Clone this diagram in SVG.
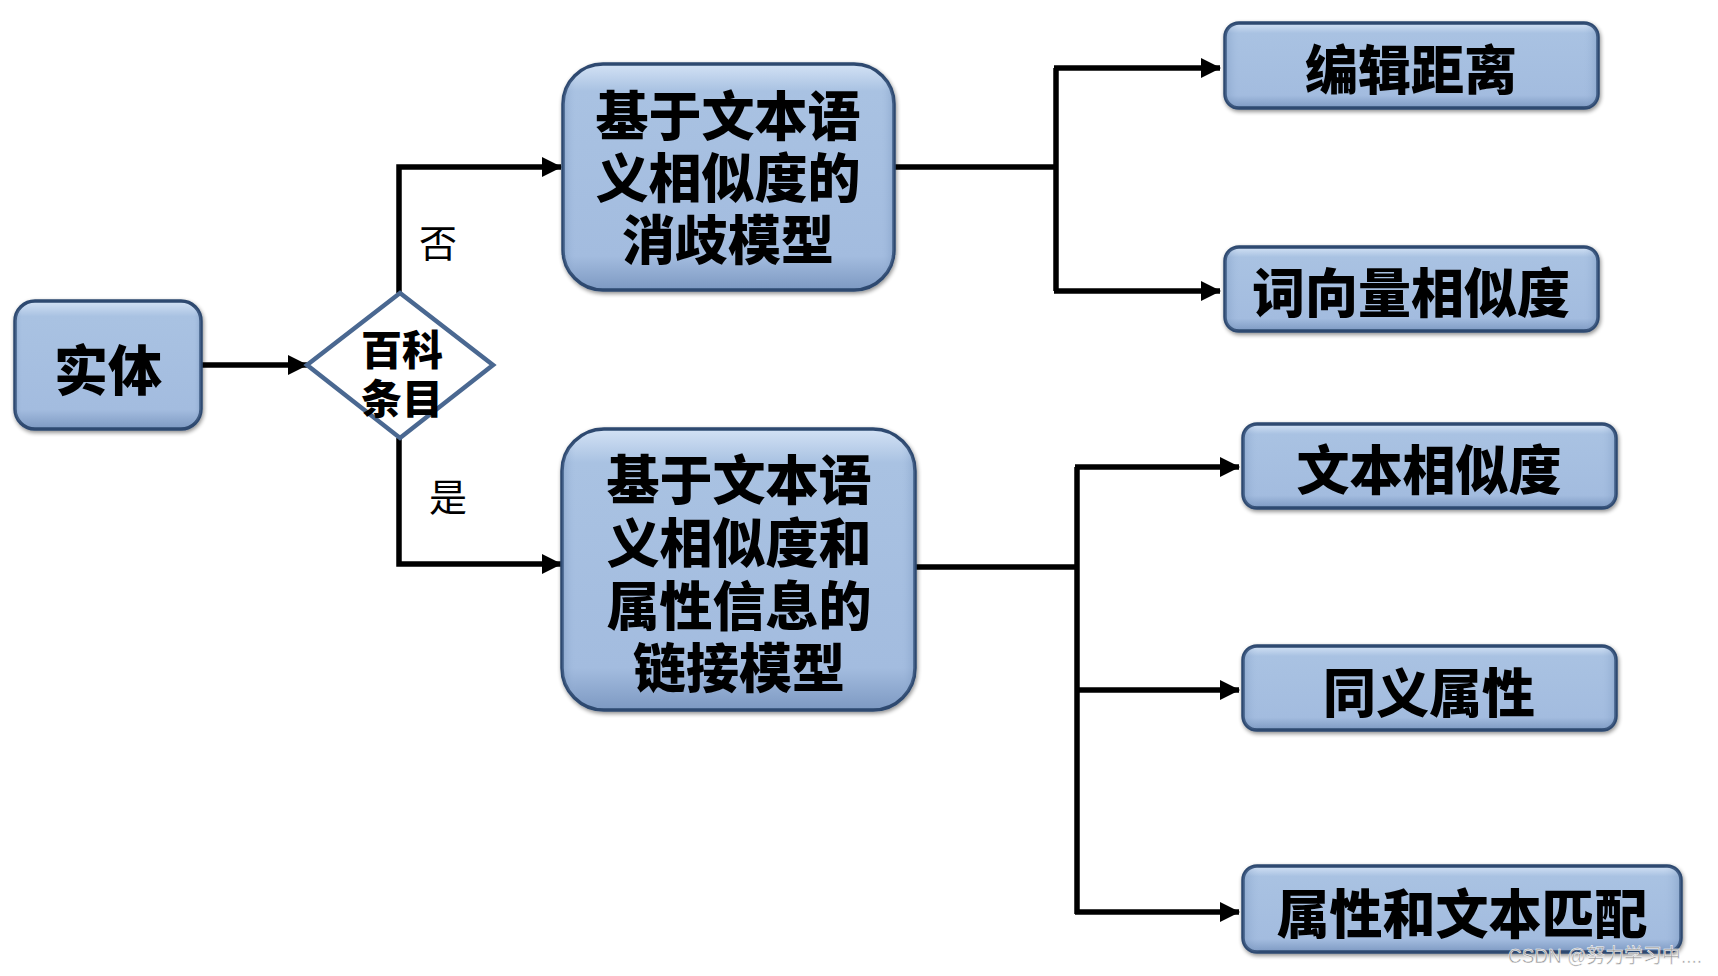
<svg xmlns="http://www.w3.org/2000/svg" width="1718" height="976" viewBox="0 0 1718 976">
  <defs>
    <linearGradient id="boxFill" x1="0" y1="0" x2="0" y2="1">
      <stop offset="0" stop-color="#d3e2f5"/>
      <stop offset="0.12" stop-color="#a9c2e2"/>
      <stop offset="0.85" stop-color="#a3bcdf"/>
      <stop offset="1" stop-color="#7d99c2"/>
    </linearGradient>
    <linearGradient id="sideShade" x1="0" y1="0" x2="1" y2="0">
      <stop offset="0" stop-color="#5f7fab" stop-opacity="0.35"/>
      <stop offset="0.04" stop-color="#a3bcdf" stop-opacity="0"/>
      <stop offset="0.96" stop-color="#a3bcdf" stop-opacity="0"/>
      <stop offset="1" stop-color="#5f7fab" stop-opacity="0.35"/>
    </linearGradient>
    <filter id="shadow" x="-10%" y="-10%" width="120%" height="130%">
      <feGaussianBlur in="SourceAlpha" stdDeviation="2"/>
      <feOffset dx="1" dy="2" result="b"/>
      <feComponentTransfer><feFuncA type="linear" slope="0.45"/></feComponentTransfer>
      <feMerge><feMergeNode/><feMergeNode in="SourceGraphic"/></feMerge>
    </filter>
    <marker id="arrow" viewBox="0 0 20 20" refX="19" refY="10" markerWidth="20" markerHeight="20" markerUnits="userSpaceOnUse" orient="auto">
      <path d="M0,0 L20,10 L0,20 z" fill="#000"/>
    </marker>
    <style>
      .box { fill: url(#boxFill); stroke: #2e4a70; stroke-width: 3.5; filter: url(#shadow); }
      .shade { fill: url(#sideShade); stroke: none; }
      .label { font-family: "Noto Sans CJK SC", "Noto Sans", sans-serif; font-weight: 900; fill: #000; text-anchor: middle; dominant-baseline: central; }
      .big { font-size: 53px; }
      .small { font-size: 41px; }
      .plain { font-family: "Noto Sans CJK SC", "Noto Sans", sans-serif; font-weight: 400; font-size: 38px; fill: #000; text-anchor: middle; dominant-baseline: central; }
      .wire { fill: none; stroke: #000; stroke-width: 5.5; }
      .wm { font-family: "Liberation Sans", "Noto Sans CJK SC", sans-serif; font-size: 20px; fill: #9a9a9a; stroke: #ffffff; stroke-width: 0.5; }
    </style>
  </defs>

  <rect width="1718" height="976" fill="#ffffff"/>

  <!-- connectors -->
  <g id="connectors">
    <path class="wire" d="M202,365 L307,365" marker-end="url(#arrow)"/>
    <path class="wire" d="M399,293 L399,167 L561,167" marker-end="url(#arrow)"/>
    <path class="wire" d="M399,438 L399,564 L561,564" marker-end="url(#arrow)"/>
    <path class="wire" d="M893,167 L1056,167"/>
    <path class="wire" d="M1056,68 L1056,291"/>
    <path class="wire" d="M1054,68 L1220,68" marker-end="url(#arrow)"/>
    <path class="wire" d="M1054,291 L1220,291" marker-end="url(#arrow)"/>
    <path class="wire" d="M915,567 L1077,567"/>
    <path class="wire" d="M1077,467 L1077,914"/>
    <path class="wire" d="M1075,467 L1239,467" marker-end="url(#arrow)"/>
    <path class="wire" d="M1075,690 L1239,690" marker-end="url(#arrow)"/>
    <path class="wire" d="M1075,912 L1239,912" marker-end="url(#arrow)"/>
    <text class="plain" x="438" y="240">否</text>
    <text class="plain" x="448" y="494">是</text>
  </g>

  <!-- entity -->
  <g id="entity">
    <rect class="box" x="15" y="301" width="186" height="128" rx="20"/>
    <rect class="shade" x="15" y="301" width="186" height="128" rx="20"/>
    <text class="label" x="108" y="367" font-size="54">实体</text>
  </g>

  <!-- decision -->
  <g id="decision">
    <path d="M400,293 L493,365 L400,438 L307,365 Z" fill="#ffffff" stroke="#4a6891" stroke-width="4.5" stroke-linejoin="miter"/>
    <text class="label small"><tspan x="402" y="347">百科</tspan><tspan x="402" y="396">条目</tspan></text>
  </g>

  <!-- disambiguation model -->
  <g id="disambiguation-model">
    <rect class="box" x="563" y="64" width="331" height="226" rx="40"/>
    <rect class="shade" x="563" y="64" width="331" height="226" rx="40"/>
    <text class="label big"><tspan x="728" y="113">基于文本语</tspan><tspan x="728" y="175">义相似度的</tspan><tspan x="728" y="237">消歧模型</tspan></text>
  </g>

  <!-- linking model -->
  <g id="linking-model">
    <rect class="box" x="562" y="429" width="353" height="281" rx="42"/>
    <rect class="shade" x="562" y="429" width="353" height="281" rx="42"/>
    <text class="label big"><tspan x="739" y="477">基于文本语</tspan><tspan x="739" y="540">义相似度和</tspan><tspan x="739" y="603">属性信息的</tspan><tspan x="739" y="665">链接模型</tspan></text>
  </g>

  <!-- feature boxes -->
  <g id="edit-distance">
    <rect class="box" x="1225" y="23" width="373" height="85" rx="14"/>
    <rect class="shade" x="1225" y="23" width="373" height="85" rx="14"/>
    <text class="label big" x="1411" y="67">编辑距离</text>
  </g>
  <g id="word-vector-similarity">
    <rect class="box" x="1225" y="247" width="373" height="84" rx="14"/>
    <rect class="shade" x="1225" y="247" width="373" height="84" rx="14"/>
    <text class="label big" x="1411" y="290">词向量相似度</text>
  </g>
  <g id="text-similarity">
    <rect class="box" x="1243" y="424" width="373" height="84" rx="14"/>
    <rect class="shade" x="1243" y="424" width="373" height="84" rx="14"/>
    <text class="label big" x="1429" y="467">文本相似度</text>
  </g>
  <g id="synonym-attribute">
    <rect class="box" x="1243" y="646" width="373" height="84" rx="14"/>
    <rect class="shade" x="1243" y="646" width="373" height="84" rx="14"/>
    <text class="label big" x="1429" y="690">同义属性</text>
  </g>
  <g id="attribute-text-match">
    <rect class="box" x="1243" y="866" width="438" height="86" rx="14"/>
    <rect class="shade" x="1243" y="866" width="438" height="86" rx="14"/>
    <text class="label big" x="1462" y="911">属性和文本匹配</text>
  </g>

  <text class="wm" x="1508" y="963" textLength="194" lengthAdjust="spacingAndGlyphs">CSDN @努力学习中....</text>
</svg>
